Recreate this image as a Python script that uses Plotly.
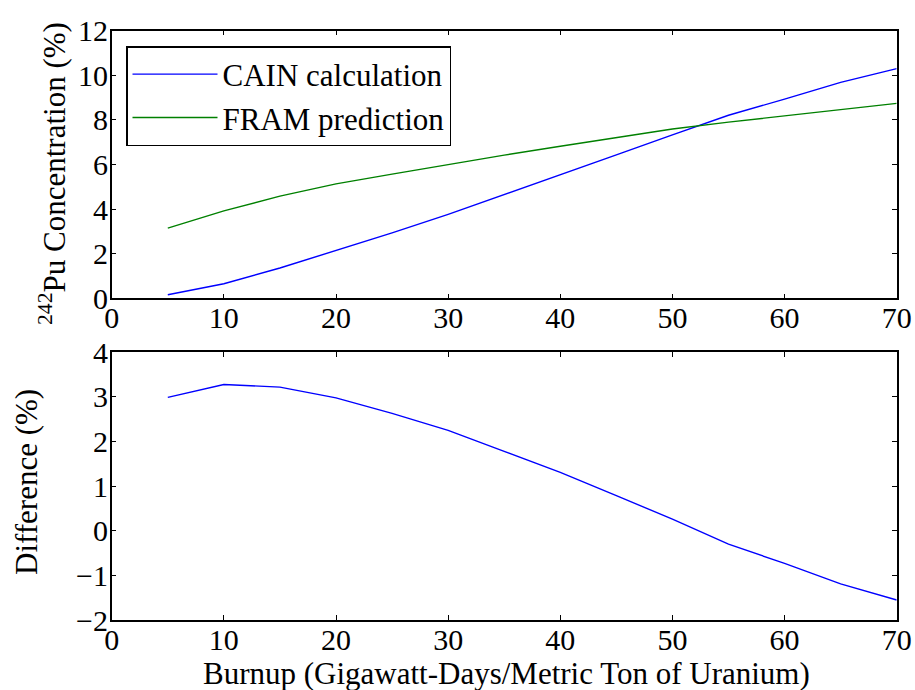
import plotly.graph_objects as go

burnup = [5, 10, 15, 20, 25, 30, 35, 40, 45, 50, 55, 60, 65, 70]
cain = [0.16, 0.65, 1.36, 2.13, 2.93, 3.76, 4.64, 5.52, 6.43, 7.33, 8.21, 8.93, 9.68, 10.30]
fram = [3.15, 3.92, 4.58, 5.13, 5.57, 6.00, 6.42, 6.82, 7.22, 7.59, 7.90, 8.18, 8.47, 8.74]
difference = [2.99, 3.28, 3.22, 2.98, 2.63, 2.25, 1.78, 1.31, 0.79, 0.26, -0.30, -0.73, -1.19, -1.55]

x_ticks = [0, 10, 20, 30, 40, 50, 60, 70]
top_y_ticks = [0, 2, 4, 6, 8, 10, 12]
bot_y_ticks = [-2, -1, 0, 1, 2, 3, 4]

FONT = "Liberation Serif"
FS = 30
TFS = 31

fig = go.Figure()
fig.add_trace(go.Scatter(x=burnup, y=cain, mode="lines", name="CAIN calculation",
                         line=dict(color="#0000ff", width=1.4), xaxis="x", yaxis="y"))
fig.add_trace(go.Scatter(x=burnup, y=fram, mode="lines", name="FRAM prediction",
                         line=dict(color="#008000", width=1.4), xaxis="x", yaxis="y"))
fig.add_trace(go.Scatter(x=burnup, y=difference, mode="lines", name="Difference",
                         line=dict(color="#0000ff", width=1.4), xaxis="x2", yaxis="y2",
                         showlegend=False))

ax_common = dict(showline=True, linecolor="black", linewidth=1.5, mirror="ticks",
                 ticks="inside", ticklen=5, tickwidth=1, tickcolor="black",
                 showgrid=False, zeroline=False, automargin=False,
                 tickfont=dict(family=FONT, size=FS, color="black"))

fig.update_layout(
    template="none",
    width=915, height=690,
    margin=dict(l=0, r=0, t=0, b=0, pad=0),
    paper_bgcolor="white", plot_bgcolor="white",
    font=dict(family=FONT, size=FS, color="black"),
    xaxis=dict(domain=[0.1221, 0.98], range=[0, 70], tickvals=x_ticks, anchor="y",
               ticklabelstandoff=-8, **ax_common),
    yaxis=dict(domain=[0.5677, 0.9555], range=[0, 12], tickvals=top_y_ticks, anchor="x",
               ticklabelstandoff=-4, **ax_common),
    xaxis2=dict(domain=[0.1221, 0.98], range=[0, 70], tickvals=x_ticks, anchor="y2",
                ticklabelstandoff=-8, **ax_common),
    yaxis2=dict(domain=[0.1014, 0.4894], range=[-2, 4], tickvals=bot_y_ticks, anchor="x2",
                ticklabelstandoff=-4, **ax_common),
    legend=dict(x=126 / 915, y=1 - 46 / 690, xanchor="left", yanchor="top",
                bordercolor="black", borderwidth=1.5, bgcolor="white",
                font=dict(family=FONT, size=TFS, color="black"),
                itemwidth=85, tracegroupgap=0),
    showlegend=True,
)

fig.add_annotation(text="<sup>242</sup>Pu Concentration (%)", x=52 / 915, y=1 - 174 / 690,
                   xref="paper", yref="paper", xanchor="center", yanchor="middle",
                   textangle=-90, showarrow=False, font=dict(family=FONT, size=TFS, color="black"))
fig.add_annotation(text="Difference (%)", x=26 / 915, y=1 - 482 / 690,
                   xref="paper", yref="paper", xanchor="center", yanchor="middle",
                   textangle=-90, showarrow=False, font=dict(family=FONT, size=TFS, color="black"))
fig.add_annotation(text="Burnup (Gigawatt-Days/Metric Ton of Uranium)", x=506 / 915, y=1 - 673 / 690,
                   xref="paper", yref="paper", xanchor="center", yanchor="middle",
                   showarrow=False, font=dict(family=FONT, size=TFS, color="black"))

fig.write_html("out.html")
